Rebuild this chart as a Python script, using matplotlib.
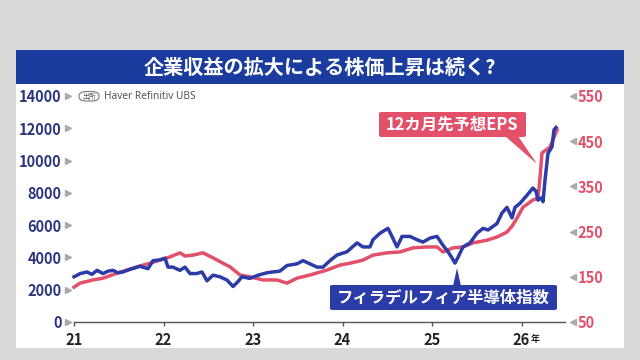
import matplotlib
matplotlib.use("Agg")
import matplotlib.pyplot as plt
from matplotlib.patches import Rectangle, FancyBboxPatch, Polygon
from matplotlib.transforms import blended_transform_factory

plt.rcParams['font.family'] = ['Noto Sans CJK JP', 'DejaVu Sans']

# ---------------- data ----------------
title = "企業収益の拡大による株価上昇は続く?"
source = "Haver Refinitiv UBS"
sox_label = "フィラデルフィア半導体指数"
eps_label = "12カ月先予想EPS"

sox_t = [21.00, 21.07, 21.145, 21.20, 21.257, 21.324, 21.38, 21.436, 21.49, 21.547,
         21.62, 21.737, 21.827, 21.883, 21.96, 22.017, 22.05, 22.106, 22.184, 22.24,
         22.296, 22.37, 22.43, 22.486, 22.553, 22.631, 22.709, 22.777, 22.832, 22.877,
         22.966, 23.056, 23.156, 23.223, 23.30, 23.38, 23.49, 23.559, 23.637, 23.715,
         23.782, 23.86, 23.939, 24.05, 24.162, 24.229, 24.307, 24.341, 24.419, 24.508,
         24.553, 24.609, 24.665, 24.754, 24.832, 24.899, 24.978, 25.056, 25.123, 25.179,
         25.22, 25.257, 25.29, 25.346, 25.425, 25.503, 25.57, 25.626, 25.726, 25.782,
         25.838, 25.894, 25.927, 25.983, 26.061, 26.128, 26.162, 26.184, 26.228, 26.24,
         26.263, 26.296, 26.341, 26.363, 26.385]
sox_v = [2800, 3000, 3100, 2950, 3200, 3000, 3150, 3200, 3050, 3100,
         3250, 3450, 3300, 3800, 3850, 3950, 3400, 3400, 3200, 3400,
         3000, 3000, 3100, 2550, 2900, 2800, 2600, 2200, 2500, 2800,
         2700, 2900, 3050, 3100, 3150, 3500, 3600, 3800, 3600, 3400,
         3400, 3800, 4150, 4350, 4900, 4650, 4650, 5100, 5500, 5800,
         5300, 4650, 5300, 5300, 5100, 4950, 5200, 5300, 4750, 4350,
         4000, 3650, 4000, 4650, 4900, 5500, 5800, 5700, 6100, 6750,
         7100, 6450, 7100, 7350, 7850, 8300, 8100, 7550, 7700, 7450,
         8800, 10450, 10850, 11900, 12050]

eps_t = [21.00, 21.067, 21.212, 21.324, 21.480, 21.592, 21.737, 21.849, 21.961, 22.073,
         22.184, 22.240, 22.330, 22.441, 22.553, 22.665, 22.743, 22.855, 22.966, 23.112,
         23.268, 23.380, 23.492, 23.637, 23.827, 23.972, 24.084, 24.229, 24.341, 24.497,
         24.642, 24.788, 24.944, 25.056, 25.123, 25.235, 25.346, 25.458, 25.615, 25.726,
         25.838, 25.894, 25.950, 26.017, 26.128, 26.184, 26.207, 26.229, 26.318, 26.397]
eps_v = [127, 136, 143, 147, 158, 165, 174, 180, 187, 194,
         203, 196, 198, 203, 192, 180, 172, 154, 150, 143,
         143, 136, 147, 154, 165, 176, 180, 187, 198, 203,
         205, 214, 216, 216, 205, 214, 216, 225, 231, 238,
         249, 262, 280, 304, 320, 324, 370, 424, 437, 475]

left_ticks = [0, 2000, 4000, 6000, 8000, 10000, 12000, 14000]
right_ticks = [50, 150, 250, 350, 450, 550]
x_ticks = [21, 22, 23, 24, 25, 26]
x_ticklabels = ["21", "22", "23", "24", "25", "26"]

# ---------------- styles ----------------
BLUE = "#2b3ca8"
RED = "#e2506a"
NAVY = "#2a3580"
TITLE_BLUE = "#1a3c9e"
BG = "#d9d9d9"

W, H = 640, 360
fig = plt.figure(figsize=(W / 100, H / 100), dpi=100)
fig.patch.set_facecolor(BG)


def fx(x):
    return x / W


def fy(y):
    return 1 - y / H


# white panel and title bar
fig.add_artist(Rectangle((fx(16), fy(348)), fx(608), 264 / H, transform=fig.transFigure,
                         facecolor="white", edgecolor="none", zorder=0))
fig.add_artist(Rectangle((fx(16), fy(84)), fx(608), 34 / H, transform=fig.transFigure,
                         facecolor=TITLE_BLUE, edgecolor="none", zorder=1))
fig.text(fx(320), fy(67.5), title, color="white", fontsize=14.5, fontweight="bold",
         ha="center", va="center")

# axes
ax = fig.add_axes([fx(74), fy(322), fx(565 - 74), 226 / H])
ax.set_facecolor("none")
ax.set_xlim(21, 21 + (565 - 74) / 89.5)
ax.set_ylim(0, 14000)
ax2 = ax.twinx()
ax2.set_ylim(50, 550)

for a in (ax, ax2):
    for s in ("top", "left", "right"):
        a.spines[s].set_visible(False)
ax.spines["bottom"].set_color("#555555")
ax.spines["bottom"].set_linewidth(1.0)
ax2.spines["bottom"].set_visible(False)

ax.set_xticks(x_ticks)
ax.set_xticklabels(x_ticklabels)
ax.tick_params(axis="x", direction="out", length=3, width=1, color="#555555",
               labelsize=10.5, pad=4)
for lb in ax.get_xticklabels():
    lb.set_fontweight("bold")
    lb.set_color("#222222")

ax.set_yticks(left_ticks)
ax.set_yticklabels([str(v) for v in left_ticks])
ax.tick_params(axis="y", length=0, pad=9, labelsize=10.5, labelcolor=NAVY)
for lb in ax.get_yticklabels():
    lb.set_fontweight("bold")

ax2.set_yticks(right_ticks)
ax2.set_yticklabels([str(v) for v in right_ticks])
ax2.tick_params(axis="y", length=0, pad=9, labelsize=10.5, labelcolor=RED)
for lb in ax2.get_yticklabels():
    lb.set_fontweight("bold")

# triangles beside tick labels
trL = blended_transform_factory(ax.transAxes, ax.transData)
ax.plot([(68 - 74) / 491] * len(left_ticks), left_ticks, ls="none", marker=">",
        ms=4, color="#aaaaaa", transform=trL, clip_on=False)
trR = blended_transform_factory(ax2.transAxes, ax2.transData)
ax2.plot([(573 - 74) / 491] * len(right_ticks), right_ticks, ls="none", marker="<",
         ms=4, color="#aaaaaa", transform=trR, clip_on=False)

# "年"
fig.text(fx(531), fy(339), "年", fontsize=6.5, fontweight="bold", color="#222222",
         ha="left", va="center")

# lines
ax2.plot(eps_t, eps_v, color=RED, lw=2.5, solid_joinstyle="round", zorder=3, clip_on=False)
ax.plot(sox_t, sox_v, color=BLUE, lw=2.5, solid_joinstyle="round", zorder=4, clip_on=False)
ax.set_zorder(ax2.get_zorder() + 1)

# source label
fig.add_artist(FancyBboxPatch((fx(79), fy(101)), fx(20), 9.5 / H,
                              boxstyle="round,pad=0,rounding_size=0.012",
                              transform=fig.transFigure, facecolor="white",
                              edgecolor="#777777", linewidth=0.8))
fig.text(fx(89), fy(96.5), "出所", fontsize=5, color="#555555", ha="center", va="center")
fig.text(fx(104), fy(96.5), source, fontsize=7.3, color="#555555", ha="left", va="center",
         family=["Noto Sans", "DejaVu Sans"])

# EPS callout
fig.add_artist(FancyBboxPatch((fx(379), fy(137)), fx(147), 25 / H,
                              boxstyle="round,pad=0,rounding_size=0.004",
                              transform=fig.transFigure, facecolor=RED, edgecolor="none"))
fig.add_artist(Polygon([(fx(505), fy(136)), (fx(518), fy(136)), (fx(537), fy(164))],
                       closed=True, transform=fig.transFigure, facecolor=RED, edgecolor="none"))
fig.text(fx(452), fy(124.5), eps_label, fontsize=11.8, color="white", ha="center",
         va="center", fontweight="bold")

# SOX callout
fig.add_artist(FancyBboxPatch((fx(330), fy(310)), fx(227), 25 / H,
                              boxstyle="round,pad=0,rounding_size=0.004",
                              transform=fig.transFigure, facecolor=BLUE, edgecolor="none"))
fig.add_artist(Polygon([(fx(453), fy(286)), (fx(461), fy(286)), (fx(457), fy(268))],
                       closed=True, transform=fig.transFigure, facecolor=BLUE, edgecolor="none"))
fig.text(fx(443.5), fy(297.5), sox_label, fontsize=11.8, color="white", ha="center",
         va="center", fontweight="bold")

fig.savefig("out.png", dpi=100, facecolor=fig.get_facecolor())
